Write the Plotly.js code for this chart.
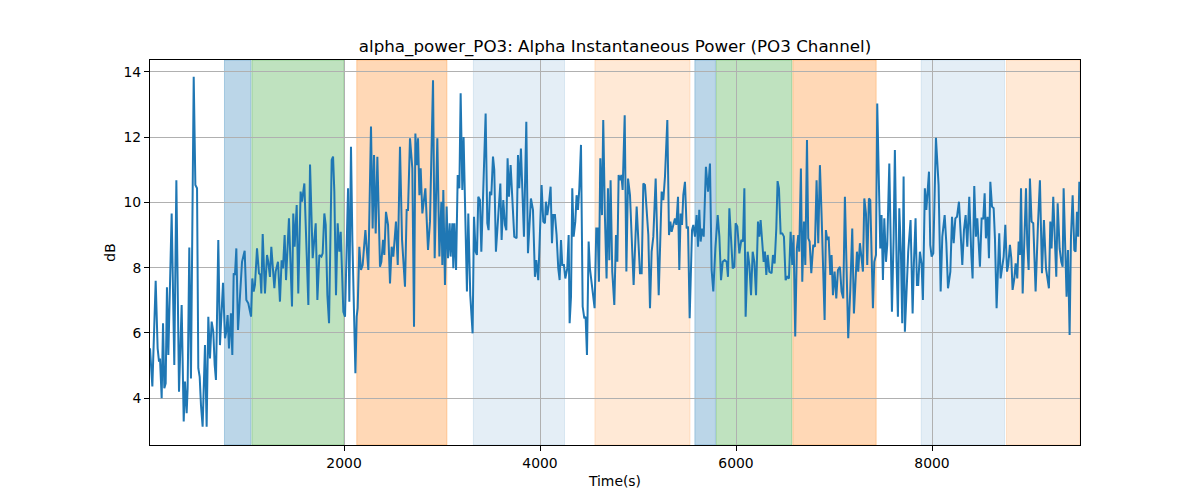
<!DOCTYPE html>
<html>
<head>
<meta charset="utf-8">
<script src="https://cdn.plot.ly/plotly-3.0.1.min.js"></script>
<style>
  html, body { margin: 0; padding: 0; background: #ffffff; }
  #chart { width: 1200px; height: 500px; }
</style>
</head>
<body>
<div id="chart"></div>
<script>
/* ── data ────────────────────────────────────────────────── */
const timeSec = [
  20, 44, 78, 98, 112, 122, 139, 153, 166, 180, 193, 207, 241, 268, 289, 316, 343, 364, 377, 394,
  404, 421, 438, 466, 483, 500, 513, 527, 540, 557, 581, 598, 615, 632, 649, 666, 680, 693, 717, 734,
  765, 785, 799, 812, 826, 846, 860, 874, 887, 901, 918, 935, 959, 986, 1003, 1023, 1051, 1064, 1078, 1091,
  1112, 1132, 1146, 1156, 1170, 1193, 1214, 1227, 1244, 1258, 1275, 1289, 1302, 1312, 1326, 1346, 1363, 1377, 1394, 1408,
  1438, 1469, 1482, 1496, 1517, 1533, 1557, 1571, 1595,
  1636, 1653, 1680, 1711, 1728, 1748, 1769, 1782, 1799, 1813, 1830, 1847, 1874, 1888, 1901, 1918, 1935, 1952, 1966, 1976,
  1993, 2010, 2041, 2054, 2071, 2085, 2116, 2129, 2139, 2156, 2173, 2190, 2218, 2248, 2275, 2292, 2306, 2323, 2340, 2367,
  2381, 2398, 2411, 2428, 2449, 2469, 2486, 2503, 2530, 2548, 2571, 2592, 2622, 2639, 2653, 2673, 2697, 2714, 2728, 2741,
  2755, 2769, 2782, 2799, 2830, 2857, 2877, 2908, 2925, 2952, 2973, 2993, 3003, 3013, 3030, 3047, 3061, 3078, 3088, 3105,
  3115, 3126, 3143, 3160, 3177,
  3190, 3207, 3220, 3234, 3254, 3268, 3288, 3312, 3326, 3343, 3356, 3370, 3387, 3401, 3424, 3445, 3462, 3475, 3489, 3503,
  3520, 3533, 3550, 3574, 3595, 3608, 3625, 3642, 3656, 3669, 3683, 3700, 3717, 3737, 3761, 3775, 3788, 3805, 3819, 3836,
  3860, 3877, 3907, 3928, 3948, 3962, 3982, 4016, 4033, 4050, 4060, 4074, 4091, 4108, 4122, 4135, 4152, 4169, 4186, 4200,
  4214, 4227, 4244, 4258, 4278, 4292, 4302, 4316, 4329, 4343, 4360, 4373, 4387, 4401, 4418, 4435, 4452, 4465, 4479, 4496,
  4509, 4526, 4557, 4574, 4588, 4601, 4615, 4632, 4645, 4662, 4679, 4693, 4707, 4720, 4737, 4758,
  4775, 4789, 4802, 4816, 4830, 4843, 4864, 4881, 4898, 4918, 4938, 4955, 4986, 5020, 5037, 5054, 5071, 5088, 5105, 5122,
  5139, 5156, 5180, 5211, 5241, 5258, 5275, 5299, 5316, 5330, 5343, 5360, 5377, 5391, 5408, 5421, 5435, 5449, 5462, 5479,
  5496, 5510, 5527, 5551, 5564, 5581, 5598, 5612, 5625, 5639, 5653, 5670, 5693, 5714, 5734, 5751, 5768, 5789, 5813, 5830,
  5847, 5864, 5884, 5904, 5918, 5932, 5949, 5966, 5983, 5996, 6013, 6034, 6054, 6071, 6085, 6098, 6119, 6136, 6153, 6170,
  6187, 6204, 6224, 6238, 6251, 6265, 6282, 6295, 6309, 6323, 6340,
  6363, 6377, 6394, 6411, 6424, 6438, 6455, 6472, 6489, 6506, 6523, 6540, 6557, 6574, 6587, 6604, 6621, 6635, 6645, 6662,
  6676, 6693, 6707, 6724, 6737, 6751, 6768, 6788, 6805, 6822, 6839, 6856, 6873, 6904, 6917, 6931, 6945, 6962, 6975, 6989,
  7006, 7023, 7040, 7060, 7077, 7094, 7111, 7128, 7145, 7166, 7186, 7203, 7220, 7234, 7247, 7264, 7281, 7295, 7309, 7326,
  7339, 7356, 7370, 7383, 7397, 7411, 7428, 7441, 7458, 7472, 7485, 7499, 7513, 7530, 7543, 7564, 7577, 7591, 7608, 7621,
  7638, 7652, 7666, 7683, 7696, 7710, 7723, 7737, 7757, 7781, 7802, 7815, 7832, 7846, 7859, 7876, 7893, 7907, 7927,
  7942, 7955, 7969, 7982, 7996, 8013, 8040, 8067, 8088, 8105, 8129, 8146, 8163, 8187, 8204, 8221, 8238, 8255, 8275, 8292,
  8309, 8326, 8343, 8360, 8380, 8401, 8414, 8431, 8448, 8462, 8489, 8506, 8523, 8537, 8550, 8567, 8581, 8595, 8612, 8629,
  8642, 8659, 8686, 8700, 8717, 8731, 8748, 8765, 8778, 8795, 8809, 8822, 8840, 8853, 8870, 8884, 8897, 8908, 8925, 8945,
  8959, 8972, 8986, 8999, 9016, 9033, 9057, 9081, 9101, 9122, 9142, 9163, 9176, 9193, 9207, 9220, 9237, 9251, 9268, 9282,
  9302, 9319, 9333, 9343, 9360, 9373, 9387, 9404, 9418, 9435, 9452, 9465, 9479, 9492, 9503
];

const powerDb = [
  5.53, 4.36, 7.60, 5.53, 5.12, 5.22, 4.00, 6.30, 4.31, 4.46, 7.40, 5.33, 9.66, 5.02, 10.68, 4.20, 6.86, 3.29, 4.51, 3.54,
  4.31, 8.62, 4.61, 13.85, 10.53, 10.43, 4.92, 4.66, 3.80, 3.13, 5.63, 3.13, 6.50, 5.22, 6.35, 6.04, 5.02, 4.56, 8.85, 5.63,
  7.54, 5.84, 6.04, 6.55, 5.53, 6.60, 5.33, 7.83, 7.78, 8.59, 6.09, 6.96, 8.18, 8.52, 7.01, 6.91, 6.50, 7.67, 7.27, 7.47,
  8.59, 7.83, 7.78, 7.21, 9.03, 7.21, 8.39, 8.18, 7.72, 8.64, 7.98, 7.37, 7.88, 7.98, 8.18, 6.96, 8.23, 7.98, 9.00, 7.62,
  9.51, 6.81, 9.66, 8.64, 9.92, 7.21, 10.33, 10.02, 10.58,
  6.86, 11.16, 8.29, 9.36, 7.01, 8.39, 8.34, 8.44, 9.66, 9.31, 7.16, 6.30, 11.30, 11.40, 10.33, 7.16, 9.36, 8.49, 9.10, 8.39,
  6.65, 6.50, 10.43, 6.96, 11.70, 8.85, 4.77, 6.50, 6.76, 8.64, 7.93, 8.08, 9.15, 7.93, 12.32, 9.20, 11.45, 9.05, 11.40, 8.03,
  8.18, 8.85, 8.39, 9.71, 9.31, 7.52, 8.64, 8.34, 9.41, 8.08, 11.70, 8.85, 7.42, 9.77, 9.77, 11.96, 11.04, 6.19, 12.11, 11.14,
  11.96, 10.22, 11.04, 9.66, 10.43, 8.54, 9.41, 13.74, 8.29, 11.96, 8.34, 10.02, 8.08, 10.38, 7.47, 9.87, 8.29, 9.36, 8.34, 9.36,
  7.98, 9.36, 7.93, 10.84, 10.43,
  13.34, 10.38, 12.00, 9.77, 7.27, 9.66, 7.16, 5.99, 9.56, 8.49, 8.39, 10.17, 10.07, 8.49, 10.99, 12.72, 9.36, 9.15, 10.33, 10.22,
  11.40, 11.00, 8.49, 9.66, 10.58, 8.85, 10.07, 9.31, 9.15, 11.35, 10.17, 11.14, 9.97, 8.95, 8.90, 11.45, 10.43, 11.65, 10.43, 8.95,
  12.47, 8.44, 10.12, 9.77, 7.72, 8.23, 7.62, 10.53, 9.41, 9.36, 10.02, 9.61, 9.97, 10.48, 8.75, 9.61, 9.61, 9.00, 7.98, 7.62,
  8.85, 8.08, 8.08, 7.67, 7.98, 9.00, 6.30, 7.11, 10.43, 8.95, 9.41, 10.22, 9.77, 10.43, 11.76, 6.81, 6.45, 6.50, 5.33, 8.80,
  7.98, 7.57, 6.76, 9.20, 9.20, 7.57, 11.35, 9.61, 12.52, 9.56, 7.67, 10.43, 8.23, 10.68, 7.88, 6.86,
  9.00, 8.18, 10.84, 10.68, 10.84, 10.38, 12.67, 7.88, 10.73, 10.22, 8.49, 7.47, 9.87, 7.83, 7.83, 10.58, 10.53, 9.61, 9.00, 6.76,
  8.49, 8.95, 10.73, 7.16, 10.33, 10.07, 10.79, 12.52, 9.00, 9.41, 9.10, 9.31, 9.51, 9.31, 10.17, 7.93, 9.66, 9.31, 10.22, 10.63,
  9.20, 9.26, 6.45, 9.15, 9.31, 8.95, 9.61, 8.64, 9.77, 8.80, 9.20, 8.95, 11.09, 10.33, 11.19, 7.93, 7.27, 8.59, 9.61, 8.95,
  7.62, 8.18, 8.23, 8.18, 7.72, 9.82, 9.00, 7.98, 8.03, 9.36, 9.26, 8.44, 8.85, 8.80, 10.43, 6.50, 8.49, 8.08, 7.16, 8.49,
  8.18, 7.16, 9.41, 8.95, 9.46, 8.95, 8.18, 8.49, 7.78, 8.39, 7.88,
  7.83, 8.39, 8.13, 9.20, 10.65, 10.43, 9.05, 9.05, 8.95, 7.62, 7.72, 7.67, 9.10, 8.08, 9.00, 5.89, 8.59, 9.00, 8.49, 11.04,
  7.57, 9.41, 8.08, 11.91, 8.90, 8.80, 7.83, 8.70, 8.64, 10.68, 8.75, 11.14, 9.61, 6.40, 9.15, 8.85, 8.95, 7.78, 8.39, 7.16,
  7.88, 7.06, 7.93, 8.03, 7.27, 7.06, 10.17, 7.83, 5.84, 7.32, 9.20, 6.60, 7.93, 8.49, 7.88, 8.75, 8.29, 7.88, 10.12, 9.66,
  8.08, 10.12, 10.07, 7.98, 6.76, 8.18, 8.39, 13.03, 10.17, 8.59, 9.61, 7.62, 9.51, 8.18, 8.70, 11.19, 9.05, 6.65, 8.90, 11.60,
  8.18, 6.50, 9.82, 8.39, 6.30, 10.79, 6.04, 6.96, 8.49, 9.46, 6.60, 8.13, 9.51, 7.47, 7.47, 8.49, 8.13, 7.01, 10.43,
  9.77, 10.43, 10.94, 8.70, 8.34, 8.44, 11.98, 10.53, 7.27, 8.95, 9.61, 8.75, 7.37, 7.88, 9.56, 8.75, 9.51, 9.56, 10.02, 9.05,
  8.08, 9.15, 9.61, 8.64, 10.17, 8.39, 7.67, 10.50, 8.95, 9.51, 8.03, 9.51, 9.51, 10.28, 8.90, 9.56, 8.29, 10.63, 9.87, 9.82,
  8.90, 6.76, 9.05, 7.67, 7.98, 8.34, 9.31, 7.88, 8.08, 8.70, 8.29, 7.32, 7.67, 8.13, 7.67, 8.80, 8.39, 10.43, 7.21, 9.31,
  10.43, 8.70, 7.93, 10.73, 9.41, 9.36, 7.27, 9.31, 10.68, 7.83, 9.46, 7.98, 7.72, 7.37, 9.41, 8.59, 10.17, 8.80, 7.72, 9.97,
  8.59, 8.18, 8.03, 10.43, 8.80, 7.11, 8.54, 5.94, 8.95, 10.22, 8.54, 8.49, 9.71, 8.95, 10.63
];

// shaded stimulus / condition segments (seconds)
const spanStart = [780, 1060, 2130, 3320, 4560, 5580, 5800, 6580, 7890, 8760];
const spanEnd   = [1050, 2000, 3050, 4250, 5530, 5790, 6570, 7430, 8740, 9510];
const spanKind  = ["blue", "green", "orange", "paleBlue", "paleOrange",
                   "blue", "green", "orange", "paleBlue", "paleOrange"];

const xTicks = [2000, 4000, 6000, 8000];
const yTicks = [4, 6, 8, 10, 12, 14];

/* ── styles ──────────────────────────────────────────────── */
const spanFill = {
    blue       : "rgba(31,119,180,0.3)",
    green      : "rgba(44,160,44,0.3)",
    orange     : "rgba(255,127,14,0.3)",
    paleBlue   : "rgba(31,119,180,0.12)",
    paleOrange : "rgba(255,127,14,0.17)"
};

const font = "DejaVu Sans, Liberation Sans, sans-serif";

const shapes = spanStart.map((s, i) => ({
    type: "rect",
    xref: "x", yref: "paper",
    x0: s, x1: spanEnd[i], y0: 0, y1: 1,
    fillcolor: spanFill[spanKind[i]],
    line: { color: spanFill[spanKind[i]], width: 1 },
    layer: "below"
}));

const trace = {
    x: timeSec,
    y: powerDb,
    type: "scatter",
    mode: "lines",
    line: { color: "#1f77b4", width: 2 },
    hoverinfo: "skip"
};

const axisCommon = {
    showline: true,
    mirror: true,
    linecolor: "#000000",
    linewidth: 1,
    ticks: "outside",
    ticklen: 5,
    tickwidth: 1,
    tickcolor: "#000000",
    showgrid: true,
    gridcolor: "#b0b0b0",
    gridwidth: 1,
    zeroline: false,
    tickfont: { family: font, size: 13.9, color: "#000000" }
};

const layout = {
    width: 1200,
    height: 500,
    margin: { l: 150, r: 120, t: 60, b: 55 },
    paper_bgcolor: "#ffffff",
    plot_bgcolor: "rgba(0,0,0,0)",
    showlegend: false,
    font: { family: font, color: "#000000" },
    title: {
        text: "alpha_power_PO3: Alpha Instantaneous Power (PO3 Channel)",
        font: { family: font, size: 16.7, color: "#000000" },
        x: 0.5, xref: "paper", xanchor: "center",
        y: 1 - 46 / 500, yref: "container", yanchor: "middle"
    },
    xaxis: {
        ...axisCommon,
        range: [20, 9510],
        tickmode: "array",
        tickvals: xTicks,
        ticktext: xTicks.map(String),
        title: { text: "Time(s)", font: { family: font, size: 13.9, color: "#000000" }, standoff: 6 }
    },
    yaxis: {
        ...axisCommon,
        range: [2.57, 14.36],
        tickmode: "array",
        tickvals: yTicks,
        ticktext: yTicks.map(String),
        title: { text: "dB", font: { family: font, size: 13.9, color: "#000000" }, standoff: 4 }
    },
    shapes: shapes
};

Plotly.newPlot("chart", [trace], layout, { displayModeBar: false, staticPlot: true });
</script>
</body>
</html>
